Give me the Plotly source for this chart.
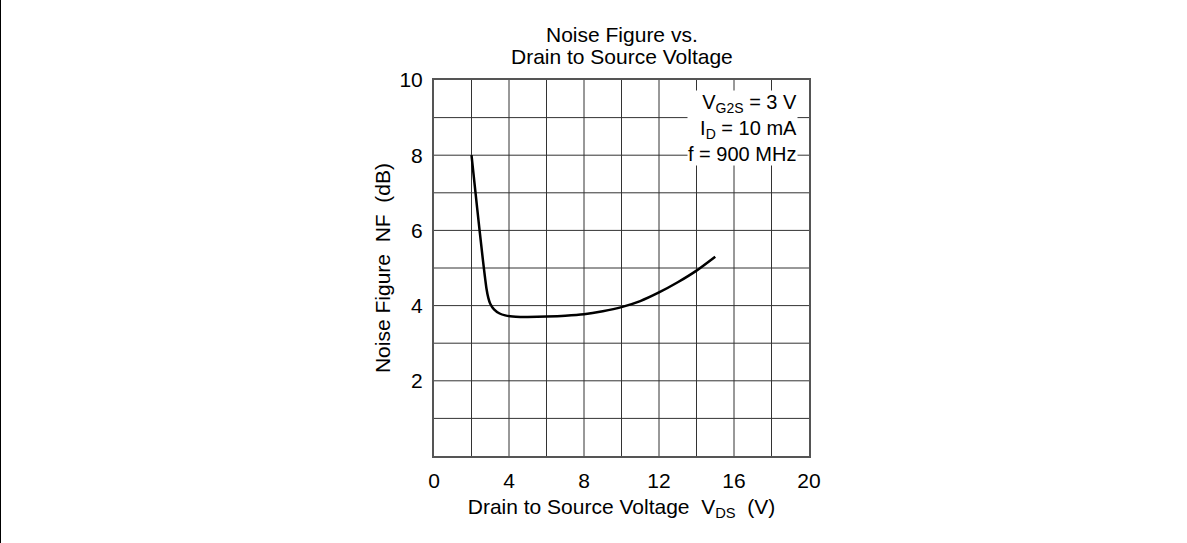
import plotly.graph_objects as go

# Noise figure vs. drain-to-source voltage
vds = [2.0, 2.3, 2.6, 2.8, 2.9, 3.0, 3.2, 3.5, 3.8, 4.2, 4.6, 5.0, 6.0, 7.0, 8.0, 9.0, 10.0, 11.0, 12.0, 13.0, 14.0, 15.0]
nf = [8.0, 6.6, 5.25, 4.45, 4.2, 4.05, 3.9, 3.79, 3.74, 3.71, 3.7, 3.7, 3.71, 3.73, 3.77, 3.85, 3.96, 4.12, 4.35, 4.62, 4.93, 5.3]

x_ticks = [0, 4, 8, 12, 16, 20]
y_ticks = [2, 4, 6, 8, 10]
title_lines = ["Noise Figure vs.", "Drain to Source Voltage"]
conditions = ["V<sub>G2S</sub> = 3 V", "I<sub>D</sub> = 10 mA", "f = 900 MHz"]

FONT = "Liberation Sans, Arial, sans-serif"
FS = 21
L, R, T, B = 434, 378, 80, 87
PW, PH = 1187 - L - R, 543 - T - B

fig = go.Figure()
fig.add_trace(go.Scatter(x=vds, y=nf, mode="lines",
                         line=dict(color="black", width=2.5, shape="spline", smoothing=0.6),
                         hoverinfo="skip", showlegend=False))

fig.update_layout(
    width=1187, height=543,
    margin=dict(l=L, r=R, t=T, b=B),
    paper_bgcolor="white", plot_bgcolor="white",
    font=dict(family=FONT, size=FS, color="black"),
    xaxis=dict(range=[0, 20], tickvals=x_ticks, showgrid=False,
               showline=True, linecolor="#555", linewidth=2, mirror=True,
               ticks="outside", ticklen=5, tickcolor="rgba(0,0,0,0)",
               tickfont=dict(family=FONT, size=FS, color="black"),
               zeroline=False, fixedrange=True,
               title=dict(text="Drain to Source Voltage  V<sub>DS</sub>  (V)", standoff=8,
                          font=dict(family=FONT, size=FS, color="black"))),
    yaxis=dict(range=[0, 10], tickvals=y_ticks, showgrid=False,
               showline=True, linecolor="#555", linewidth=2, mirror=True,
               ticks="outside", ticklen=5, tickcolor="rgba(0,0,0,0)",
               tickfont=dict(family=FONT, size=FS, color="black"),
               zeroline=False, fixedrange=True,
               title=dict(text="Noise Figure  NF  (dB)", standoff=3,
                          font=dict(family=FONT, size=FS, color="black"))),
)

# Grid: every 2 V horizontally, every 1 dB vertically
shapes = []
for gx in range(2, 20, 2):
    shapes.append(dict(type="line", xref="x", yref="y", x0=gx, x1=gx, y0=0, y1=10,
                       line=dict(color="#333", width=1), layer="below"))
for gy in range(1, 10):
    shapes.append(dict(type="line", xref="x", yref="y", x0=0, x1=20, y0=gy, y1=gy,
                       line=dict(color="#333", width=1), layer="below"))
# Left page rule
shapes.append(dict(type="line", xref="paper", yref="paper",
                   x0=-(L - 0.5) / PW, x1=-(L - 0.5) / PW, y0=-B / PH, y1=1 + T / PH,
                   line=dict(color="black", width=1)))
fig.update_layout(shapes=shapes)

# Two-line heading, set tightly above the plot
for i, (line, ypx) in enumerate(zip(title_lines, [35, 57])):
    fig.add_annotation(x=(622 - L) / PW, y=1 + (T - ypx) / PH, xref="paper", yref="paper",
                       xanchor="center", yanchor="middle", text=line, showarrow=False,
                       font=dict(family=FONT, size=FS, color="black"))

# Test conditions block
fig.add_annotation(x=19.4, y=8.72, xref="x", yref="y", xanchor="right", yanchor="middle",
                   text="<br>".join(conditions), showarrow=False, align="right",
                   bgcolor="white", borderpad=0,
                   font=dict(family=FONT, size=20, color="black"))

fig.write_html("out.html")
